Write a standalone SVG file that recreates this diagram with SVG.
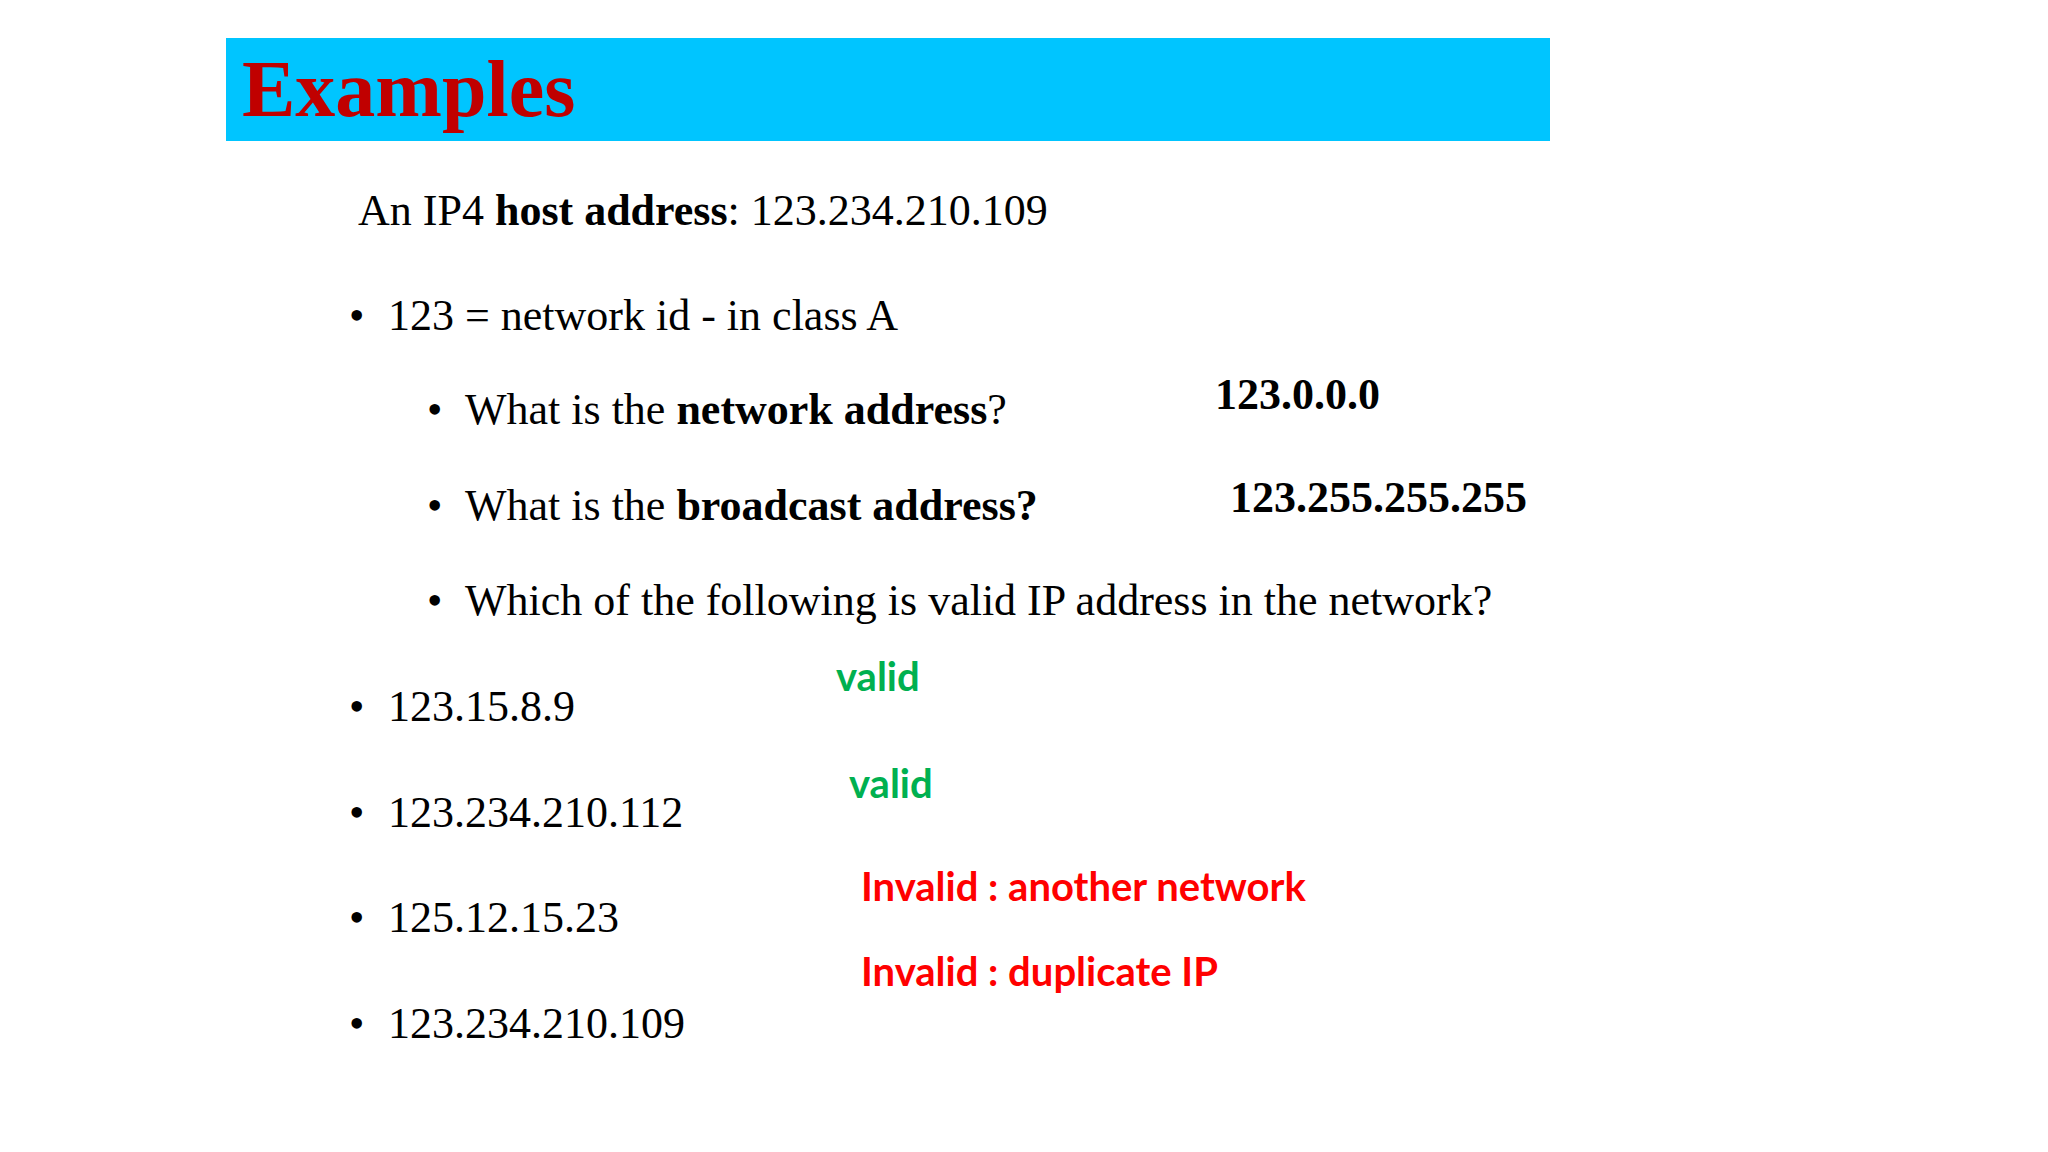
<svg xmlns="http://www.w3.org/2000/svg" width="2048" height="1152" viewBox="0 0 2048 1152">
<style>
.t{font-family:"Liberation Serif",serif;font-size:44px;fill:#000}
.b{font-weight:bold}
.g{font-family:Lato,"Liberation Sans",sans-serif;font-weight:bold;font-size:40px;fill:#00b050}
.r{font-family:Lato,"Liberation Sans",sans-serif;font-weight:bold;font-size:40px;fill:#ff0000}
</style>
<rect width="2048" height="1152" fill="#fff"/>
<g id="title">
<rect x="226" y="38" width="1324" height="103" fill="#00c5ff"/>
<text x="242" y="116" font-family="Liberation Serif,serif" font-weight="bold" font-size="80" fill="#c00000">Examples</text>
</g>
<g id="content">
<text class="t" x="358" y="225">An IP4 <tspan class="b">host address</tspan>: 123.234.210.109</text>
<text class="t" x="349" y="330">•</text><text class="t" x="388" y="330">123 = network id - in class A</text>
<text class="t" x="427" y="424">•</text><text class="t" x="465" y="424">What is the <tspan class="b">network address</tspan>?</text>
<text class="t b" x="1215" y="409">123.0.0.0</text>
<text class="t" x="427" y="520">•</text><text class="t" x="465" y="520">What is the <tspan class="b">broadcast address?</tspan></text>
<text class="t b" x="1230" y="512">123.255.255.255</text>
<text class="t" x="427" y="615">•</text><text class="t" x="465" y="615">Which of the following is valid IP address in the  network?</text>
<text class="t" x="349" y="721">•</text><text class="t" x="388" y="721">123.15.8.9</text>
<text class="t" x="349" y="827">•</text><text class="t" x="388" y="827">123.234.210.112</text>
<text class="t" x="349" y="932">•</text><text class="t" x="388" y="932">125.12.15.23</text>
<text class="t" x="349" y="1038">•</text><text class="t" x="388" y="1038">123.234.210.109</text>
<text class="g" x="836" y="691">valid</text>
<text class="g" x="849" y="798">valid</text>
<text class="r" x="861" y="901">Invalid : another network</text>
<text class="r" x="861" y="986">Invalid : duplicate IP</text>
</g>
</svg>
